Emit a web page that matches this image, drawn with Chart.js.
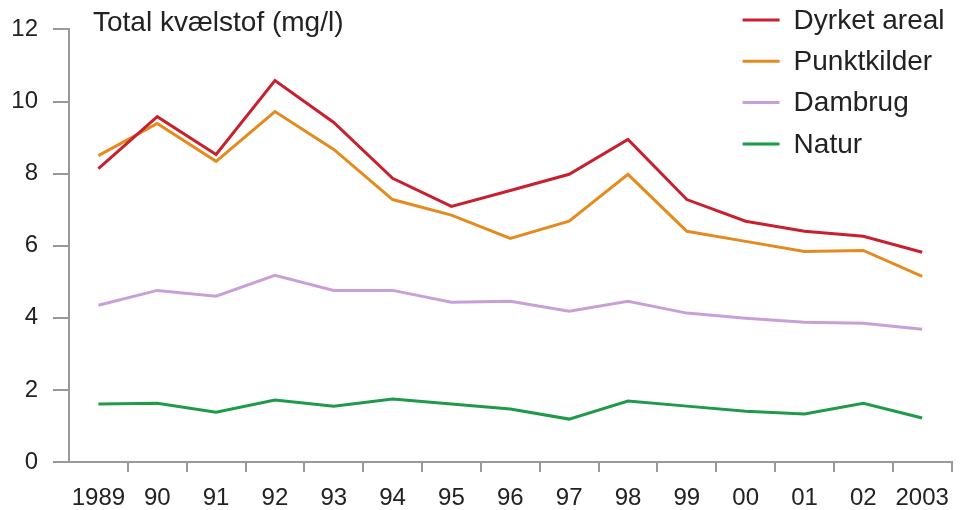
<!DOCTYPE html>
<html>
<head>
<meta charset="utf-8">
<script src="https://cdn.jsdelivr.net/npm/chart.js@4.4.1/dist/chart.umd.min.js"></script>
<style>
    body { margin: 0; background: #fff; }
    #wrap { width: 961px; height: 510px; }
</style>
</head>
<body>
<div id="wrap"><canvas id="grafico"></canvas></div>
<script>
var anos = ['1989', '90', '91', '92', '93', '94', '95', '96', '97', '98', '99', '00', '01', '02', '2003']
var dyrketAreal = [8.14, 9.58, 8.53, 10.58, 9.42, 7.87, 7.09, 7.53, 7.98, 8.95, 7.28, 6.68, 6.40, 6.26, 5.82]
var punktkilder = [8.50, 9.39, 8.34, 9.72, 8.67, 7.28, 6.85, 6.20, 6.68, 7.98, 6.40, 6.12, 5.84, 5.87, 5.15]
var dambrug = [4.35, 4.76, 4.60, 5.18, 4.76, 4.76, 4.43, 4.46, 4.18, 4.46, 4.13, 3.99, 3.88, 3.85, 3.68]
var natur = [1.61, 1.63, 1.38, 1.72, 1.55, 1.75, 1.61, 1.47, 1.19, 1.69, 1.55, 1.41, 1.33, 1.63, 1.22]
var yTicks = [0, 2, 4, 6, 8, 10, 12]
var titulo = 'Total kvælstof (mg/l)'

var fonte = '"Liberation Sans", Arial, Helvetica, sans-serif'
var corTexto = '#222'
var corEixo = '#999'

// titulo e legenda desenhados dentro da area do grafico
var legendaPlugin = {
    id: 'legendaInterna',
    afterDraw: function (chart) {
        var c = chart.ctx
        var area = chart.chartArea
        c.save()
        c.fillStyle = corTexto
        c.font = '28px ' + fonte
        c.textBaseline = 'middle'
        c.textAlign = 'left'
        c.fillText(titulo, area.left + 24, area.top - 6)

        chart.data.datasets.forEach(function (ds, i) {
            var y = 20 + i * 41.3
            var x0 = area.right - 209
            c.strokeStyle = ds.borderColor
            c.lineWidth = 3
            c.beginPath()
            c.moveTo(x0, y)
            c.lineTo(x0 + 37, y)
            c.stroke()
            c.fillStyle = corTexto
            c.fillText(ds.label, x0 + 51, y + 1)
        })
        c.restore()
    }
}

var ctx = document.getElementById('grafico')

var graficoKvaelstof = new Chart(ctx, {
    type: 'line',
    data: {
        labels: anos,
        datasets: [{
            label: 'Dyrket areal',
            data: dyrketAreal,
            borderColor: '#c8202f',
        }, {
            label: 'Punktkilder',
            data: punktkilder,
            borderColor: '#e38b1f',
        }, {
            label: 'Dambrug',
            data: dambrug,
            borderColor: '#c7a0d8',
        }, {
            label: 'Natur',
            data: natur,
            borderColor: '#1f9a4b',
        }]
    },
    options: {
        responsive: true,
        maintainAspectRatio: false,
        animation: false,
        layout: {
            padding: { top: 29, right: 4, left: 0, bottom: 0 }
        },
        elements: {
            line: { borderWidth: 3, tension: 0, fill: false },
            point: { radius: 0, hoverRadius: 0 }
        },
        plugins: {
            legend: { display: false },
            title: { display: false },
            tooltip: { enabled: false }
        },
        scales: {
            x: {
                offset: true,
                afterFit: function (s) { s.height = 48 },
                border: { display: true, color: corEixo, width: 2 },
                grid: {
                    offset: true,
                    drawOnChartArea: false,
                    drawTicks: true,
                    tickLength: 10,
                    lineWidth: 2,
                    color: function (c) { return c.index === 0 ? 'rgba(0,0,0,0)' : corEixo }
                },
                ticks: {
                    color: corTexto,
                    padding: 12,
                    maxRotation: 0,
                    autoSkip: false,
                    font: { family: fonte, size: 24 }
                }
            },
            y: {
                min: 0,
                max: 12,
                afterFit: function (s) { s.width = 69 },
                afterBuildTicks: function (s) {
                    s.ticks = yTicks.map(function (v) { return { value: v } })
                },
                border: { display: true, color: corEixo, width: 2 },
                grid: {
                    drawOnChartArea: false,
                    drawTicks: true,
                    tickLength: 16,
                    lineWidth: 2,
                    color: corEixo
                },
                ticks: {
                    color: corTexto,
                    padding: 15,
                    font: { family: fonte, size: 24 }
                }
            }
        }
    },
    plugins: [legendaPlugin]
});
</script>
</body>
</html>
